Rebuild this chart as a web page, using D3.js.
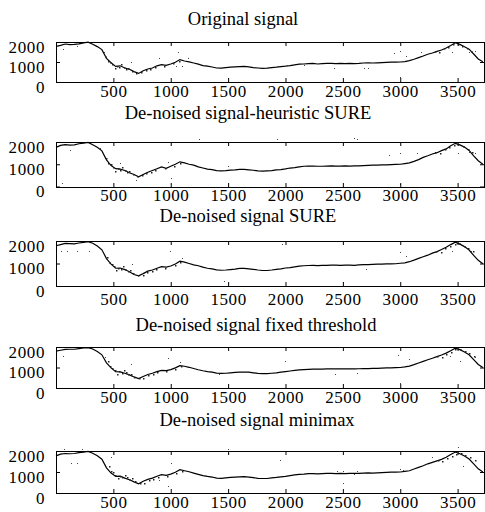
<!DOCTYPE html>
<html>
<head>
<meta charset="utf-8">
<script src="https://cdn.jsdelivr.net/npm/d3@7"></script>
<style>
body { margin: 0; background: #fff; }
text { font-family: "Liberation Serif", "Times New Roman", serif; fill: #000; }
</style>
</head>
<body>
<svg id="viewer"></svg>
<script>
var titles = [
  'Original signal',
  'De-noised signal-heuristic SURE',
  'De-noised signal SURE',
  'De-noised signal fixed threshold',
  'De-noised signal minimax'
];
var xTicks = [500, 1000, 1500, 2000, 2500, 3000, 3500];
var yTicks = [0, 1000, 2000];
var sampleStep = 40; // signal every 40 samples

var original = [1780,1830,1900,1870,1880,1910,1960,1990,1890,1770,
  1620,1180,960,780,810,700,640,520,430,560,
  650,700,810,870,830,900,990,1120,1050,1010,
  950,890,820,790,750,700,690,720,740,760,
  770,780,760,720,700,680,690,720,740,770,
  790,820,860,890,900,920,930,900,920,930,
  930,920,930,920,930,920,930,950,960,950,
  960,970,980,990,990,1000,1020,1070,1140,1220,
  1300,1390,1450,1530,1600,1700,1820,1960,1880,1760,
  1640,1400,1150,1010];
var heuristicSure = [1760,1850,1880,1860,1870,1920,1950,1980,1880,1760,
  1600,1200,940,800,780,720,620,540,440,540,
  640,720,800,880,820,910,1000,1110,1060,1000,
  960,880,830,780,760,710,700,710,740,750,
  770,770,750,730,700,690,700,710,750,760,
  790,830,850,880,910,920,920,910,910,920,
  930,920,920,930,920,930,930,940,950,960,
  960,970,970,980,990,1000,1030,1060,1130,1210,
  1310,1380,1460,1520,1610,1690,1830,1940,1870,1770,
  1620,1380,1160,1000];
var sure = [1790,1840,1890,1880,1870,1910,1940,1970,1900,1780,
  1610,1220,970,790,800,730,630,510,450,550,
  660,710,790,860,840,890,980,1100,1060,1000,
  940,900,840,790,760,720,700,710,730,750,
  780,780,760,740,710,690,690,710,740,760,
  800,820,850,880,900,910,920,910,920,920,
  930,930,920,930,930,920,940,950,950,960,
  970,970,980,980,990,1010,1030,1080,1150,1230,
  1300,1370,1460,1530,1620,1720,1840,1950,1860,1750,
  1600,1360,1140,990];
var fixedThreshold = [1800,1840,1880,1890,1890,1920,1950,1970,1900,1780,
  1620,1230,980,800,790,720,640,540,460,560,
  660,720,800,860,850,900,980,1090,1060,1010,
  950,890,840,800,770,730,710,720,740,760,
  770,780,770,740,710,700,700,720,740,770,
  800,830,860,880,900,910,920,920,920,930,
  930,930,930,930,930,930,940,950,950,960,
  960,970,980,980,990,1000,1030,1070,1140,1220,
  1300,1380,1450,1530,1610,1700,1820,1940,1870,1760,
  1620,1380,1150,1000];
var minimax = [1770,1850,1880,1870,1880,1920,1950,1980,1890,1770,
  1610,1200,950,790,800,710,630,530,440,560,
  650,710,800,870,840,900,990,1110,1060,1010,
  950,890,830,790,760,710,700,720,740,760,
  770,780,760,730,700,690,690,720,740,770,
  790,830,860,890,900,920,920,910,920,930,
  930,920,930,920,930,930,930,950,960,950,
  960,970,980,990,990,1000,1030,1060,1140,1220,
  1300,1390,1460,1530,1600,1700,1830,1950,1870,1760,
  1620,1390,1150,1000];

// noisy samples hugging the line where the trace looks thick
var lineNoise = [[430,1300],[450,1050],[470,1000],[490,880],[510,700],[530,820],[550,740],[570,880],
  [590,760],[610,660],[630,700],[660,560],[700,470],[740,500],[780,620],[820,660],[860,760],
  [940,820],[1020,930],[1070,1060],[3300,1560],[3340,1520],[3380,1680],[3420,1760],[3460,1880],
  [3500,1900],[3540,1800],[3580,1700],[3620,1560]];

// stray samples that sit off the line, [sample, value]
var originalDots = [[60,1650],[180,1800],[420,1500],[650,980],[900,1200],[1060,1500],[1050,780],[1100,780],
  [1150,1200],[1430,700],[2160,850],[2420,700],[2680,680],[2720,680],[2950,1450],[3000,1550],[3000,250],
  [3050,1300],[3180,1480],[3450,1500],[3600,1500],[3650,1550]];
var heuristicDots = [[50,170],[120,1650],[380,1750],[560,1050],[700,300],[980,1100],[1000,400],[1250,2150],
  [1500,900],[1930,2150],[2600,2200],[2620,2150],[2900,1400],[3000,1500],[3000,100],[3150,1500],
  [3500,1500],[3600,1550],[3650,1500]];
var sureDots = [[40,1550],[100,1550],[180,1550],[290,1550],[997,1550],[1460,220],[1970,1850],[2505,190],
  [660,1000],[1100,1250],[2700,750],[3000,1500],[3050,1350],[3450,1550],[3620,1550]];
var fixedDots = [[60,1550],[430,1500],[650,1150],[980,1450],[1080,1250],[1420,700],[2000,1300],[2430,700],
  [2620,720],[2980,1600],[3000,250],[3080,1400],[3430,1550],[3600,1650],[3650,1500],[3520,1300]];
var minimaxDots = [[70,2100],[130,1450],[180,1450],[230,2100],[480,1700],[900,600],[980,350],[1000,1450],
  [1500,2100],[1950,1550],[2450,1050],[2500,1050],[2500,500],[2600,900],[2620,1050],[3000,1150],
  [3020,1100],[3280,1700],[3500,2200],[3550,1300]];

var series = [original, heuristicSure, sure, fixedThreshold, minimax];
var dots = [originalDots, heuristicDots, sureDots, fixedDots, minimaxDots];

// panel boxes as they sit in the picture (it was scanned, so spacing is uneven)
var panels = [
  {top: 42, bottom: 82, titleY: 25, titleX: 243, xLabelY: 97},
  {top: 142, bottom: 186.5, titleY: 119, titleX: 248, xLabelY: 201},
  {top: 241, bottom: 286, titleY: 222, titleX: 248, xLabelY: 305},
  {top: 347, bottom: 388, titleY: 331, titleX: 256, xLabelY: 403},
  {top: 451, bottom: 493, titleY: 426, titleX: 257, xLabelY: 508}
];
var left = 56, right = 484;

var viewer = d3.select('#viewer')
  .attr('width', 485)
  .attr('height', 512);

var x = d3.scaleLinear().domain([0, 3730]).range([left, right]);

panels.forEach(function(p, i){
  var y = d3.scaleLinear().domain([0, 2000]).range([p.bottom, p.top]);
  var g = viewer.append('g').attr('class', 'panel');

  g.append('text')
    .attr('x', p.titleX)
    .attr('y', p.titleY)
    .attr('text-anchor', 'middle')
    .style('font-size', '18.5px')
    .text(titles[i]);

  var line = d3.line()
    .x(function(d, k){ return x(k*sampleStep); })
    .y(function(d){ return y(d); });
  g.append('path')
    .datum(series[i])
    .attr('d', line)
    .attr('fill', 'none')
    .attr('stroke', '#000')
    .attr('stroke-width', 1.2);

  g.selectAll('.noise')
    .data(lineNoise)
    .enter().append('rect')
      .attr('class', 'noise')
      .attr('x', function(d){ return Math.round(x(d[0] + i*7)); })
      .attr('y', function(d){ return Math.round(y(d[1])); })
      .attr('width', 1.5)
      .attr('height', 1.5)
      .attr('fill', '#222');

  g.selectAll('.dot')
    .data(dots[i])
    .enter().append('rect')
      .attr('class', 'dot')
      .attr('x', function(d){ return Math.round(x(d[0])); })
      .attr('y', function(d){ return Math.round(y(d[1])); })
      .attr('width', 1)
      .attr('height', 1)
      .attr('fill', '#444');

  g.append('rect')
    .attr('x', left + 0.5)
    .attr('y', Math.round(p.top) + 0.5)
    .attr('width', right - left)
    .attr('height', Math.round(p.bottom) - Math.round(p.top))
    .attr('fill', 'none')
    .attr('stroke', '#000');

  var bottomAxis = g.append('g')
    .attr('transform', 'translate(0,' + Math.round(p.bottom) + ')')
    .call(d3.axisBottom(x).tickValues(xTicks).tickSizeInner(-4).tickSizeOuter(0).tickFormat(d3.format('d')));
  bottomAxis.selectAll('text')
    .attr('dy', null)
    .attr('y', p.xLabelY - Math.round(p.bottom));

  g.append('g')
    .attr('transform', 'translate(0,' + Math.round(p.top) + ')')
    .call(d3.axisTop(x).tickValues(xTicks).tickSizeInner(-4).tickSizeOuter(0).tickFormat(''));

  g.append('g')
    .attr('transform', 'translate(' + left + ',0)')
    .call(d3.axisLeft(y).tickValues(yTicks).tickSizeInner(-4).tickSizeOuter(0).tickPadding(11).tickFormat(d3.format('d')))
    .selectAll('text').attr('dy', '0.6em');

  g.append('g')
    .attr('transform', 'translate(' + right + ',0)')
    .call(d3.axisRight(y).tickValues(yTicks).tickSizeInner(-4).tickSizeOuter(0).tickFormat(''));
});

viewer.selectAll('.domain').remove();
viewer.selectAll('g').attr('font-family', null).attr('font-size', null);
viewer.selectAll('.tick line').attr('stroke', '#000');
viewer.selectAll('.tick text')
  .style('font-size', '17px')
  .style('letter-spacing', '0.6px')
  .attr('fill', '#000');
</script>
</body>
</html>
